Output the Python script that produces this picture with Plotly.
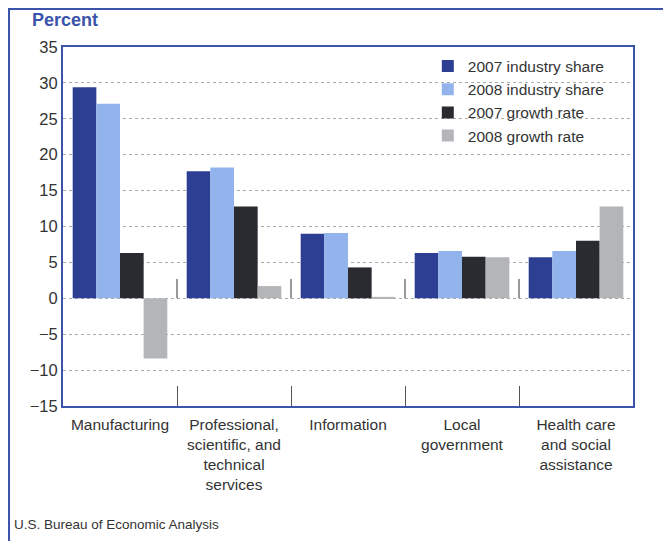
import plotly.graph_objects as go

categories = ["Manufacturing", "Professional,<br>scientific, and<br>technical<br>services",
              "Information", "Local<br>government", "Health care<br>and social<br>assistance"]
share_2007 = [29.4, 17.7, 9.0, 6.3, 5.7]
share_2008 = [27.1, 18.2, 9.1, 6.6, 6.6]
growth_2007 = [6.3, 12.8, 4.3, 5.8, 8.0]
growth_2008 = [-8.4, 1.7, 0.2, 5.7, 12.8]
series_names = ["2007 industry share", "2008 industry share", "2007 growth rate", "2008 growth rate"]
series_colors = ["#2d3f93", "#93b3ec", "#2a2b31", "#b3b5b8"]
y_ticks = [-15, -10, -5, 0, 5, 10, 15, 20, 25, 30, 35]

FONT = "Liberation Sans, Arial, sans-serif"
BLUE = "#3b53ab"

fig = go.Figure()
for name, vals, col in zip(series_names, [share_2007, share_2008, growth_2007, growth_2008], series_colors):
    fig.add_trace(go.Bar(x=categories, y=vals, name=name, marker=dict(color=col, line=dict(width=0))))

# short separator ticks above zero at category boundaries
for i in range(len(categories) - 1):
    fig.add_shape(type="line", xref="x", yref="y", x0=i + 0.5, x1=i + 0.5, y0=0, y1=2.7,
                  line=dict(color="#555555", width=1.2))

# outer frame
fig.add_shape(type="rect", xref="paper", yref="paper", x0=-0.0947, x1=1.0596, y0=-0.45, y1=1.1058,
              line=dict(color=BLUE, width=2), layer="below")

fig.add_annotation(text="<b>Percent</b>", xref="paper", yref="paper", x=-0.058, y=1.075,
                   xanchor="left", yanchor="middle", showarrow=False,
                   font=dict(family=FONT, size=18, color=BLUE))
fig.add_annotation(text="U.S. Bureau of Economic Analysis", xref="paper", yref="paper",
                   x=-0.0895, y=-0.329, xanchor="left", yanchor="middle", showarrow=False,
                   font=dict(family=FONT, size=13.5, color="#333333"))

fig.update_layout(
    width=671, height=541,
    margin=dict(l=55, r=46, t=39, b=143),
    paper_bgcolor="white", plot_bgcolor="white",
    barmode="group", bargap=0.17, bargroupgap=0,
    font=dict(family=FONT, color="#333333"),
    showlegend=True,
    legend=dict(x=0.64, y=0.993, xanchor="left", yanchor="top", bgcolor="rgba(0,0,0,0)",
                font=dict(family=FONT, size=15.5, color="#333333"), tracegroupgap=0,
                itemwidth=30),
    xaxis=dict(showline=True, linecolor=BLUE, linewidth=2, mirror=True,
               ticks="inside", tickson="boundaries", ticklen=20, tickcolor="#555555", tickwidth=1.2,
               ticklabelstandoff=3,
               tickfont=dict(family=FONT, size=15.5, color="#333333"), showgrid=False),
    yaxis=dict(range=[-15, 35], tickvals=y_ticks, showline=True, linecolor=BLUE, linewidth=2, mirror=True,
               showgrid=True, gridcolor="#aaaaaa", griddash="dot", gridwidth=1, zeroline=False,
               ticks="", tickfont=dict(family=FONT, size=16.5, color="#333333")),
)

fig.write_html("out.html")
